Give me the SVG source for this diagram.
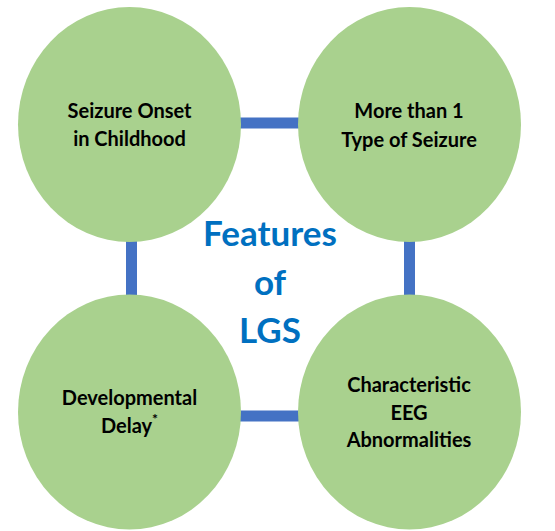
<svg xmlns="http://www.w3.org/2000/svg" width="555" height="531" viewBox="0 0 555 531">
<style>
.c{fill:#A9D18E}
.l{stroke:#4472C4;stroke-width:11;fill:none}
.t{font-family:Lato,"Open Sans","Liberation Sans",sans-serif;font-weight:bold;font-size:20px;fill:#000;text-anchor:middle}
.h{font-family:Lato,"Open Sans","Liberation Sans",sans-serif;font-weight:bold;font-size:35px;fill:#0070C0;text-anchor:middle}
</style>
<rect width="555" height="531" fill="#fff"/>
<g id="connectors">
<line class="l" x1="240" y1="123" x2="299" y2="123"/>
<line class="l" x1="240" y1="416" x2="299" y2="416"/>
<line class="l" x1="131.5" y1="240" x2="131.5" y2="296"/>
<line class="l" x1="409.5" y1="240" x2="409.5" y2="296"/>
</g>
<g id="title">
<text class="h" x="270" y="246">Features</text>
<text class="h" x="270" y="295">of</text>
<text class="h" x="270" y="343">LGS</text>
</g>
<g id="onset">
<ellipse class="c" cx="129.5" cy="124.5" rx="111.5" ry="117.5"/>
<text class="t" x="129.5" y="118">Seizure Onset</text>
<text class="t" x="129.5" y="146">in Childhood</text>
</g>
<g id="types">
<ellipse class="c" cx="409.5" cy="124.5" rx="111.5" ry="117.5"/>
<text class="t" x="409" y="118">More than 1</text>
<text class="t" x="409" y="146.5">Type of Seizure</text>
</g>
<g id="delay">
<ellipse class="c" cx="129.5" cy="412" rx="111.5" ry="117.5"/>
<text class="t" x="129.5" y="405">Developmental</text>
<text class="t" x="129.5" y="433">Delay<tspan font-size="14" dy="-9">*</tspan></text>
</g>
<g id="eeg">
<ellipse class="c" cx="409.5" cy="412" rx="111.5" ry="117.5"/>
<text class="t" x="409" y="391.5">Characteristic</text>
<text class="t" x="409" y="419.5">EEG</text>
<text class="t" x="409" y="446.5">Abnormalities</text>
</g>
</svg>
